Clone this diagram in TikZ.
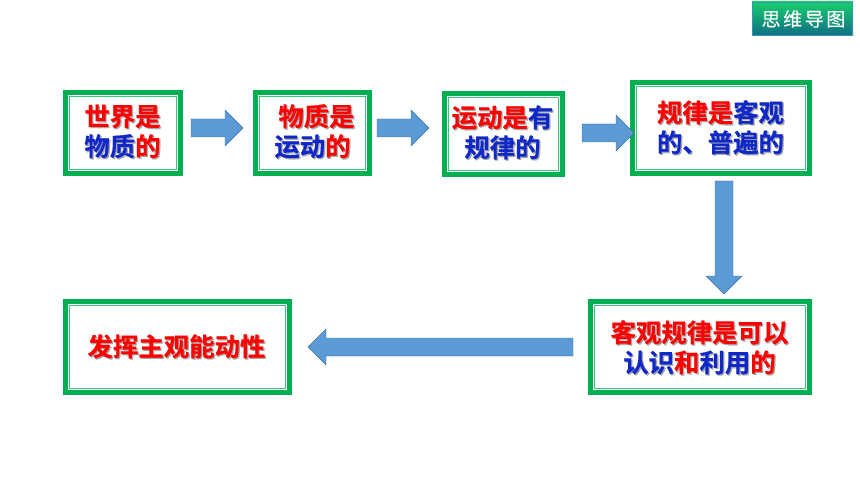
\documentclass[tikz,border=0pt]{standalone}
\usepackage{fontspec}
\usetikzlibrary{calc}
\newfontfamily\cjk{Noto Sans CJK SC Bold}[FakeBold=0.5]
\newfontfamily\cjktag{Noto Sans CJK SC}[FakeBold=0.3]
\definecolor{gframe}{HTML}{00B050}
\definecolor{ginner}{HTML}{3CC47C}
\definecolor{arrowfill}{HTML}{5B9BD5}
\definecolor{arrowline}{HTML}{41719C}
\definecolor{tred}{HTML}{FF0000}
\definecolor{tblue}{HTML}{1028C8}
\definecolor{shad}{HTML}{A8A8A8}
\definecolor{topg}{HTML}{17CE6C}
\definecolor{botg}{HTML}{0F6C86}
\definecolor{tagline}{HTML}{2E9AB0}
\newcommand{\R}[1]{\textcolor{tred}{#1}}
\newcommand{\B}[1]{\textcolor{tblue}{#1}}
\newcommand{\sh}[1]{\leavevmode\rlap{\raisebox{-1.3pt}{\kern1.3pt{\renewcommand{\R}[1]{\textcolor{shad}{##1}}\renewcommand{\B}[1]{\textcolor{shad}{##1}}#1}}}#1}
\tikzset{x=1pt,y=-1pt,
 framebox/.style={draw=gframe,line width=4.6pt,fill=white},
 innerbox/.style={draw=ginner,line width=1pt},
 boxtext/.style={font=\cjk\fontsize{25.4}{30}\selectfont,align=center,inner sep=0pt},
 blockarrow/.style={fill=arrowfill,draw=arrowline,line width=0.4pt},
}
\newcommand{\gbox}[5]{% name, x0,y0,x1,y1
 \node[framebox,minimum width={#4-#2-4.6pt},minimum height={#5-#3-4.6pt},inner sep=0pt,anchor=center] (#1) at ({(#2+#4)/2},{(#3+#5)/2}) {};
 \draw[innerbox] ({#2+6.5},{#3+6.5}) rectangle ({#4-6.5},{#5-6.5});
}
\newcommand{\harrow}[6]{% x0 x1 yc shaft half, head half, head start
 \draw[blockarrow] (#1,{#3-#4}) -- (#6,{#3-#4}) -- (#6,{#3-#5}) -- (#2,#3) -- (#6,{#3+#5}) -- (#6,{#3+#4}) -- (#1,{#3+#4}) -- cycle;
}
\begin{document}
\begin{tikzpicture}
\useasboundingbox (0,0) rectangle (860,484);
\fill[white] (0,0) rectangle (860,484);
\gbox{a}{63}{90}{183}{176}
\gbox{b}{253}{90}{372}{176}
\gbox{c}{442}{91}{565}{177}
\gbox{d}{630}{80}{812}{176}
\gbox{e}{588}{299}{812}{395}
\gbox{f}{63}{299}{292}{395}
\node[boxtext] (ta) at (122.5,132) {\sh{\R{世界是}}\\\sh{\B{物质}\R{的}}};
\node[boxtext] (tb) at (312.5,132) {\hspace*{8pt}\sh{\R{物质是}}\\\sh{\B{运动}\R{的}}};
\node[boxtext] (tc) at (502.5,133) {\sh{\R{运动是}\B{有}}\\\sh{\B{规律的}}};
\node[boxtext] (td) at (720.5,128) {\sh{\R{规律是}\B{客观}}\\\sh{\B{的、普遍的}}};
\node[boxtext] (te) at (699.5,348) {\sh{\R{客观规律是可以}}\\\sh{\B{认识}\R{和}\B{利用}\R{的}}};
\node[boxtext] (tf) at (176.5,347) {\sh{\R{发挥主观能动性}}};
\harrow{191}{243}{128}{9}{18}{225}
\harrow{377}{429}{128}{9}{18}{411}
\harrow{582}{634}{133}{9}{18}{616}
\draw[blockarrow] (715,181) -- (733,181) -- (733,276) -- (742,276) -- (724,294) -- (706,276) -- (715,276) -- cycle;
\draw[blockarrow] (573,338) -- (326,338) -- (326,329) -- (308,347) -- (326,365) -- (326,356) -- (573,356) -- cycle;
\shade[top color=topg,bottom color=botg,draw=none] (752,2) rectangle (853,36);
\draw[tagline,line width=0.6pt] (752.3,2.3) rectangle (852.7,35.7);
\node[font=\cjktag\fontsize{19}{19}\selectfont,text=white,inner sep=0pt] (tag) at (803.5,19) {思\hspace{2.6pt}维\hspace{2.6pt}导\hspace{2.6pt}图};
\end{tikzpicture}
\end{document}
